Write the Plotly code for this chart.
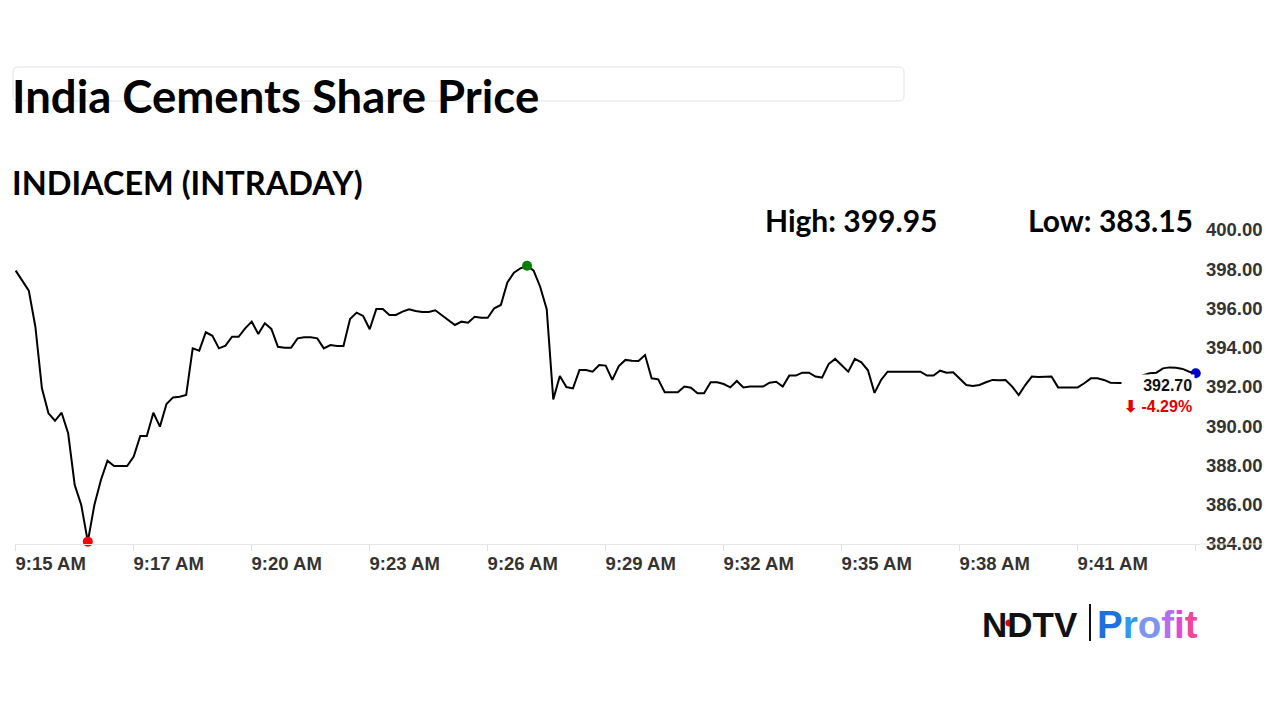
import plotly.graph_objects as go

# ---------------- data ----------------
time_labels = ["9:15 AM", "9:17 AM", "9:20 AM", "9:23 AM", "9:26 AM",
               "9:29 AM", "9:32 AM", "9:35 AM", "9:38 AM", "9:41 AM", ""]
tick_step = 18  # points between labelled ticks (10-second samples)

prices = [
    397.93, 397.40, 396.91, 395.07, 391.93, 390.66, 390.28, 390.69, 389.64, 387.01,
    385.99, 384.12, 385.99, 387.26, 388.24, 387.97, 387.97, 387.97, 388.45, 389.50,
    389.50, 390.69, 389.98, 391.13, 391.47, 391.50, 391.59, 393.97, 393.85, 394.79,
    394.61, 393.97, 394.11, 394.56, 394.56, 394.99, 395.33, 394.70, 395.25, 394.96,
    394.05, 394.00, 394.00, 394.48, 394.53, 394.53, 394.48, 393.97, 394.14, 394.09,
    394.09, 395.46, 395.79, 395.62, 394.94, 395.97, 395.97, 395.67, 395.67, 395.84,
    395.96, 395.87, 395.82, 395.82, 395.91, 395.67, 395.41, 395.16, 395.33, 395.28,
    395.58, 395.53, 395.53, 396.01, 396.18, 397.33, 397.82, 398.05, 398.18, 397.93,
    397.11, 395.96, 391.37, 392.56, 392.00, 391.93, 392.87, 392.87, 392.78, 393.12,
    393.09, 392.36, 393.07, 393.38, 393.34, 393.32, 393.63, 392.44, 392.39, 391.73,
    391.73, 391.73, 392.02, 391.96, 391.68, 391.68, 392.24, 392.24, 392.15, 391.98,
    392.31, 391.98, 392.02, 392.02, 392.02, 392.22, 392.27, 392.02, 392.58, 392.58,
    392.73, 392.73, 392.53, 392.48, 393.17, 393.43, 393.12, 392.78, 393.43, 393.26,
    392.85, 391.70, 392.36, 392.78, 392.78, 392.78, 392.78, 392.78, 392.78, 392.58,
    392.58, 392.83, 392.73, 392.75, 392.44, 392.10, 392.05, 392.10, 392.24, 392.36,
    392.34, 392.36, 392.02, 391.59, 392.10, 392.53, 392.51, 392.53, 392.53, 391.98,
    391.98, 391.98, 391.98, 392.19, 392.44, 392.44, 392.36, 392.22, 392.22, 392.22,
    392.19, 392.44, 392.60, 392.70, 392.73, 392.95, 393.00, 392.98, 392.92, 392.78,
    392.70,
]
y_ticks = [384, 386, 388, 390, 392, 394, 396, 398, 400]

title_text = "India Cements Share Price"
subtitle_text = "INDIACEM (INTRADAY)"
high_text = "High: 399.95"
low_text = "Low: 383.15"
last_price_text = "392.70"
change_text = "-4.29%"

# ---------------- layout helpers ----------------
W, H = 1280, 720
L, R, T, B = 15, 1200, 230, 544          # plot area in pixels
PW, PH = R - L, B - T


def px(x):
    return (x - L) / PW


def py(y):
    return (B - y) / PH


x_idx = list(range(len(prices)))
i_min = prices.index(min(prices))
i_max = prices.index(max(prices))
i_last = len(prices) - 1

fig = go.Figure()
fig.add_trace(go.Scatter(
    x=x_idx, y=prices, mode="lines",
    line=dict(color="#000000", width=2), hoverinfo="skip", showlegend=False))
fig.add_trace(go.Scatter(
    x=[i_min, i_max, i_last],
    y=[prices[i_min], prices[i_max], prices[i_last]],
    mode="markers", cliponaxis=False,
    marker=dict(size=10, color=["#ff0000", "#008000", "#0000cc"]),
    hoverinfo="skip", showlegend=False))

font_axis = dict(family="Liberation Sans, Arial", size=18.5, color="#333333", weight="bold")

fig.update_layout(
    width=W, height=H,
    margin=dict(l=L, r=W - R, t=T, b=H - B, pad=0),
    paper_bgcolor="white", plot_bgcolor="white",
    showlegend=False,
    xaxis=dict(
        range=[-0.107, 180.65],
        tickvals=[i * tick_step for i in range(len(time_labels))],
        ticktext=time_labels,
        ticks="outside", ticklen=6, tickcolor="#e0e0e0", tickwidth=1,
        showline=True, linecolor="#e6e6e6", linewidth=1,
        showgrid=False, zeroline=False,
        tickfont=font_axis, ticklabelshift=35, ticklabelstandoff=-3,
        automargin=False, fixedrange=True,
    ),
    yaxis=dict(
        range=[384, 400], side="right",
        tickvals=y_ticks, tickformat=".2f",
        ticks="", showline=False, showgrid=False, zeroline=False,
        tickfont=font_axis, ticklabelstandoff=5,
        automargin=False, fixedrange=True,
    ),
)

# rounded light grey box behind title
x0, x1 = px(13), px(904)
y0, y1 = py(101), py(67)
rx, ry = 5 / PW, 5 / PH
path = (f"M {x0+rx},{y1} L {x1-rx},{y1} Q {x1},{y1} {x1},{y1-ry} "
        f"L {x1},{y0+ry} Q {x1},{y0} {x1-rx},{y0} L {x0+rx},{y0} "
        f"Q {x0},{y0} {x0},{y0+ry} L {x0},{y1-ry} Q {x0},{y1} {x0+rx},{y1} Z")
fig.add_shape(type="path", path=path, xref="paper", yref="paper",
              line=dict(color="#e2e2e2", width=1), fillcolor="rgba(0,0,0,0)", layer="below")

# axis line extension under right tick labels
fig.add_shape(type="line", xref="paper", yref="paper",
              x0=1, x1=px(1262), y0=0, y1=0, line=dict(color="#e6e6e6", width=1))

lato = "Lato, Open Sans, sans-serif"
fig.add_annotation(text=f"<b>{title_text}</b>", xref="paper", yref="paper",
                   x=px(10), y=py(95), xanchor="left", yanchor="middle", showarrow=False,
                   font=dict(family=lato, size=45.5, color="#000000"))
fig.add_annotation(text=f"<b>{subtitle_text}</b>", xref="paper", yref="paper",
                   x=px(10), y=py(182), xanchor="left", yanchor="middle", showarrow=False,
                   font=dict(family=lato, size=32.5, color="#000000"))
fig.add_annotation(text=f"<b>{high_text}</b>", xref="paper", yref="paper",
                   x=px(763), y=py(220), xanchor="left", yanchor="middle", showarrow=False,
                   font=dict(family=lato, size=30, color="#000000"))
fig.add_annotation(text=f"<b>{low_text}</b>", xref="paper", yref="paper",
                   x=px(1195), y=py(220), xanchor="right", yanchor="middle", showarrow=False,
                   font=dict(family=lato, size=30, color="#000000"))

# last price label
fig.add_annotation(
    text=(f"<b>{last_price_text}</b><br>"
          f"<span style='color:#e00000'><b>⬇ {change_text}</b></span>"),
    x=i_last, y=prices[i_last], xref="x", yref="y",
    xanchor="right", yanchor="top", xshift=-1, yshift=-1, showarrow=False,
    align="right", bgcolor="white", borderpad=2,
    font=dict(family="Liberation Sans, Arial", size=16, color="#111111"))

# NDTV | Profit logo
fig.add_annotation(text="<b>NDTV</b>", xref="paper", yref="paper",
                   x=px(980), y=py(624), xanchor="left", yanchor="middle", showarrow=False,
                   font=dict(family="Liberation Sans, Arial", size=35, color="#111111"))
fig.add_shape(type="circle", xref="paper", yref="paper",
              x0=px(1005.5), x1=px(1012.5), y0=py(626.5), y1=py(619.5),
              fillcolor="#e00000", line=dict(width=0))
fig.add_shape(type="line", xref="paper", yref="paper",
              x0=px(1090), x1=px(1090), y0=py(604), y1=py(641),
              line=dict(color="#111111", width=2))
profit_colors = ["#1f6fe0", "#2f9af0", "#7d94f0", "#b56ef0", "#e646da", "#f0479a"]
profit = "".join(f"<span style='color:{c}'>{ch}</span>" for ch, c in zip("Profit", profit_colors))
fig.add_annotation(text=f"<b>{profit}</b>", xref="paper", yref="paper",
                   x=px(1095), y=py(624), xanchor="left", yanchor="middle", showarrow=False,
                   font=dict(family="Liberation Sans, Arial", size=38.5, color="#1f6fe0"))

fig.write_html("out.html")
